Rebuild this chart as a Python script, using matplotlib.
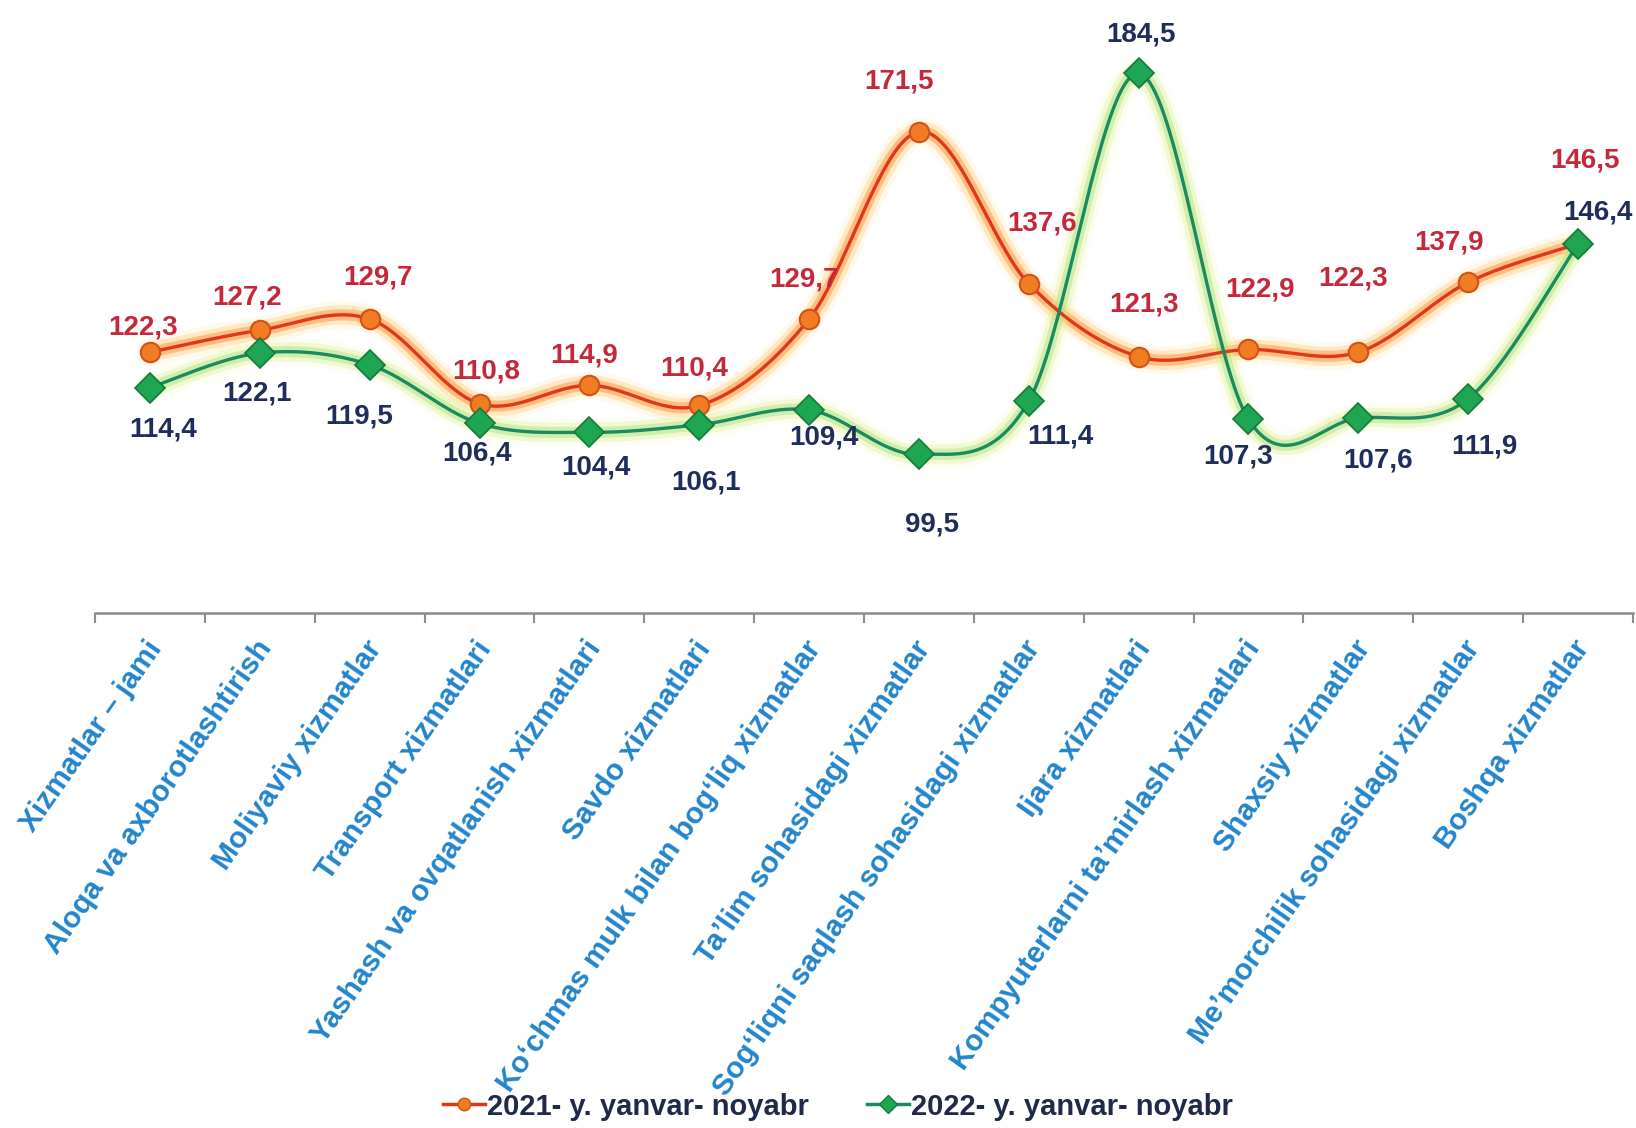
import numpy as np
import matplotlib.pyplot as plt
from matplotlib.lines import Line2D

categories = [
    "Xizmatlar – jami",
    "Aloqa va axborotlashtirish",
    "Moliyaviy xizmatlar",
    "Transport xizmatlari",
    "Yashash va ovqatlanish xizmatlari",
    "Savdo xizmatlari",
    "Koʻchmas mulk bilan bogʻliq xizmatlar",
    "Taʼlim sohasidagi xizmatlar",
    "Sogʻliqni saqlash sohasidagi xizmatlar",
    "Ijara xizmatlari",
    "Kompyuterlarni taʼmirlash xizmatlari",
    "Shaxsiy xizmatlar",
    "Meʼmorchilik sohasidagi xizmatlar",
    "Boshqa xizmatlar",
]
vals_2021 = [122.3, 127.2, 129.7, 110.8, 114.9, 110.4, 129.7, 171.5, 137.6, 121.3, 122.9, 122.3, 137.9, 146.5]
vals_2022 = [114.4, 122.1, 119.5, 106.4, 104.4, 106.1, 109.4, 99.5, 111.4, 184.5, 107.3, 107.6, 111.9, 146.4]
series_names = ["2021- y. yanvar- noyabr", "2022- y. yanvar- noyabr"]

# label offsets in pixels (dx, dy up)
off_2021 = [(-7, 25), (-13, 33), (8, 42), (7, 32), (-5, 30), (-5, 37), (-5, 40),
            (-20, 50), (13, 60), (5, 52), (12, 60), (-5, 74), (-19, 40), (7, 83)]
off_2022 = [(13, -42), (-3, -40), (-10, -52), (-2, -30), (7, -35), (7, -58), (15, -28),
            (13, -70), (32, -35), (2, 39), (-10, -37), (20, -42), (16, -48), (20, 32)]


def smooth(x, y, n=40):
    # catmull-rom style bezier like excel smoothed lines
    x = np.asarray(x, float)
    y = np.asarray(y, float)
    P = np.column_stack([x, y])
    P = np.vstack([P[0], P, P[-1]])
    out = []
    t = np.linspace(0, 1, n)[:, None]
    for i in range(1, len(P) - 2):
        p0, p1, p2, p3 = P[i - 1], P[i], P[i + 1], P[i + 2]
        c1 = p1 + (p2 - p0) / 6
        c2 = p2 - (p3 - p1) / 6
        seg = (1 - t)**3 * p1 + 3 * (1 - t)**2 * t * c1 + 3 * (1 - t) * t**2 * c2 + t**3 * p2
        out.append(seg if i == 1 else seg[1:])
    out = np.vstack(out)
    return out[:, 0], out[:, 1]


fig = plt.figure(figsize=(16.36, 11.28), dpi=100)
ax = fig.add_axes([95 / 1636, 1 - 612.5 / 1128, (1633 - 95) / 1636, 612.5 / 1128])
ax.set_xlim(-0.5, 13.5)
ax.set_ylim(64.2, 200.9)

xs = np.arange(len(categories))
sx1, sy1 = smooth(xs, vals_2021)
sx2, sy2 = smooth(xs, vals_2022)

# glow
for lw, a, c in [(20, 0.15, '#ffe08a'), (14, 0.3, '#ffc060'), (8, 0.5, '#ff9440')]:
    ax.plot(sx1, sy1, color=c, lw=lw, alpha=a, solid_capstyle='round', zorder=1)
for lw, a, c in [(20, 0.15, '#f2f8a8'), (14, 0.3, '#d8f28a'), (8, 0.45, '#a8e27c')]:
    ax.plot(sx2, sy2, color=c, lw=lw, alpha=a, solid_capstyle='round', zorder=1)

ax.plot(sx1, sy1, color='#e0361c', lw=2.4, zorder=3)
ax.plot(sx2, sy2, color='#1b8a5e', lw=2.4, zorder=3)
ax.plot(xs, vals_2021, 'o', ms=14, mfc='#f07d22', mec='#d2501a', mew=1.5, zorder=4)
ax.plot(xs, vals_2022, 'D', ms=15, mfc='#1fa653', mec='#137a3f', mew=1.2, zorder=5)

for i, v in enumerate(vals_2021):
    ax.annotate(f"{v:.1f}".replace('.', ','), (i, v), xytext=off_2021[i],
                textcoords='offset pixels', ha='center', va='center',
                fontsize=20, fontweight='bold', color='#c4283a',
                family='Liberation Sans', zorder=6)
for i, v in enumerate(vals_2022):
    ax.annotate(f"{v:.1f}".replace('.', ','), (i, v), xytext=off_2022[i],
                textcoords='offset pixels', ha='center', va='center',
                fontsize=20, fontweight='bold', color='#1f2d5c',
                family='Liberation Sans', zorder=6)

# axes
for s in ['left', 'right', 'top']:
    ax.spines[s].set_visible(False)
ax.spines['bottom'].set_color('#8c8c8c')
ax.spines['bottom'].set_linewidth(1.8)
ax.set_yticks([])
ax.set_xticks(xs)
ax.set_xticklabels([])
ax.tick_params(axis='x', which='major', length=0)
ax.set_xticks(np.arange(-0.5, 14, 1), minor=True)
ax.tick_params(axis='x', which='minor', length=7, width=1.5, color='#8c8c8c', direction='out')

for i, lab in enumerate(categories):
    ax.annotate(lab, (i, 0), xycoords=('data', 'axes fraction'), xytext=(6, -31),
                textcoords='offset pixels', rotation=55, rotation_mode='anchor',
                ha='right', va='center', fontsize=21.5, fontweight='bold',
                color='#2385cc', family='Liberation Sans', annotation_clip=False)

handles = [
    Line2D([], [], color='#e0361c', lw=2.5, marker='o', ms=9, mfc='#f07d22', mec='#d2501a'),
    Line2D([], [], color='#1b8a5e', lw=2.5, marker='D', ms=9, mfc='#1fa653', mec='#137a3f'),
]
leg = fig.legend(handles, series_names, loc='center', bbox_to_anchor=(0.512, 0.019), ncol=2,
                 frameon=False, handlelength=1.45, handletextpad=0.05, columnspacing=2.0,
                 prop={'family': 'Liberation Sans', 'weight': 'bold', 'size': 21})
for t in leg.get_texts():
    t.set_color('#1f2a48')

fig.savefig('out.png', dpi=100)
